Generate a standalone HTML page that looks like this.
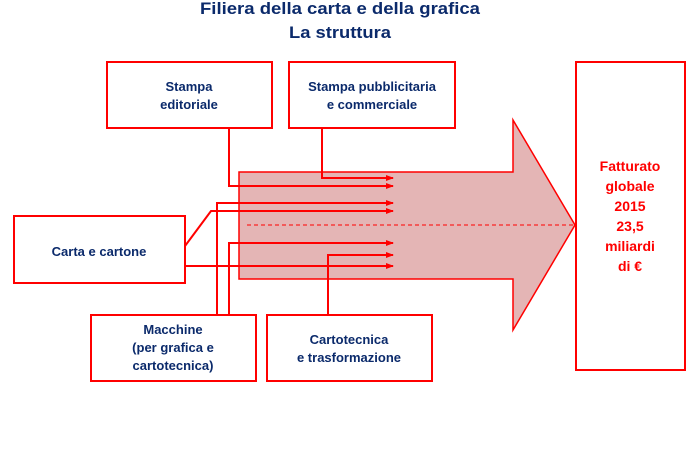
<!DOCTYPE html>
<html><head><meta charset="utf-8"><style>
html,body{margin:0;padding:0;background:#fff;}
svg{display:block;}
text{font-family:"Liberation Sans",sans-serif;font-weight:bold;}
</style></head><body>
<svg width="700" height="466" viewBox="0 0 700 466" xmlns="http://www.w3.org/2000/svg">
<defs><marker id="a" markerWidth="8" markerHeight="6" refX="7" refY="3" orient="auto" markerUnits="userSpaceOnUse"><path d="M0,0 L8,3 L0,6 z" fill="#f00"/></marker></defs>
<g fill="#0b2a6b" font-size="17" text-anchor="middle">
<text x="340" y="14" textLength="280" lengthAdjust="spacingAndGlyphs">Filiera della carta e della grafica</text>
<text x="340" y="38" textLength="102" lengthAdjust="spacingAndGlyphs">La struttura</text>
</g>
<path d="M239,172 L513,172 L513,120 L575,225 L513,330 L513,279 L239,279 Z" fill="#e4b5b5" stroke="#f00" stroke-width="1.5"/>
<line x1="247" y1="225" x2="584" y2="225" stroke="#f00" stroke-width="1" stroke-dasharray="4,3"/>
<g stroke="#f00" stroke-width="2" fill="none">
<rect x="107" y="62" width="165" height="66" fill="#fff"/>
<rect x="289" y="62" width="166" height="66" fill="#fff"/>
<rect x="14" y="216" width="171" height="67" fill="#fff"/>
<rect x="91" y="315" width="165" height="66" fill="#fff"/>
<rect x="267" y="315" width="165" height="66" fill="#fff"/>
<rect x="576" y="62" width="109" height="308" fill="#fff"/>
<polyline points="322,128 322,178 393,178" marker-end="url(#a)"/>
<polyline points="229,128 229,186 393,186" marker-end="url(#a)"/>
<polyline points="217,315 217,203 393,203" marker-end="url(#a)"/>
<polyline points="185,246 211,211 393,211" marker-end="url(#a)"/>
<polyline points="229,315 229,243 393,243" marker-end="url(#a)"/>
<polyline points="328,315 328,255 393,255" marker-end="url(#a)"/>
<polyline points="185,266 393,266" marker-end="url(#a)"/>
</g>
<g fill="#0b2a6b" font-size="13" text-anchor="middle">
<text x="189" y="91">Stampa</text><text x="189" y="109">editoriale</text>
<text x="372" y="91">Stampa pubblicitaria</text><text x="372" y="109">e commerciale</text>
<text x="99" y="256">Carta e cartone</text>
<text x="173" y="334">Macchine</text><text x="173" y="352">(per grafica e</text><text x="173" y="370">cartotecnica)</text>
<text x="349" y="344">Cartotecnica</text><text x="349" y="362">e trasformazione</text>
</g>
<g fill="#f00" font-size="14" text-anchor="middle">
<text x="630" y="171">Fatturato</text><text x="630" y="191">globale</text><text x="630" y="211">2015</text>
<text x="630" y="231">23,5</text><text x="630" y="251">miliardi</text><text x="630" y="271">di €</text>
</g>
</svg>
</body></html>
